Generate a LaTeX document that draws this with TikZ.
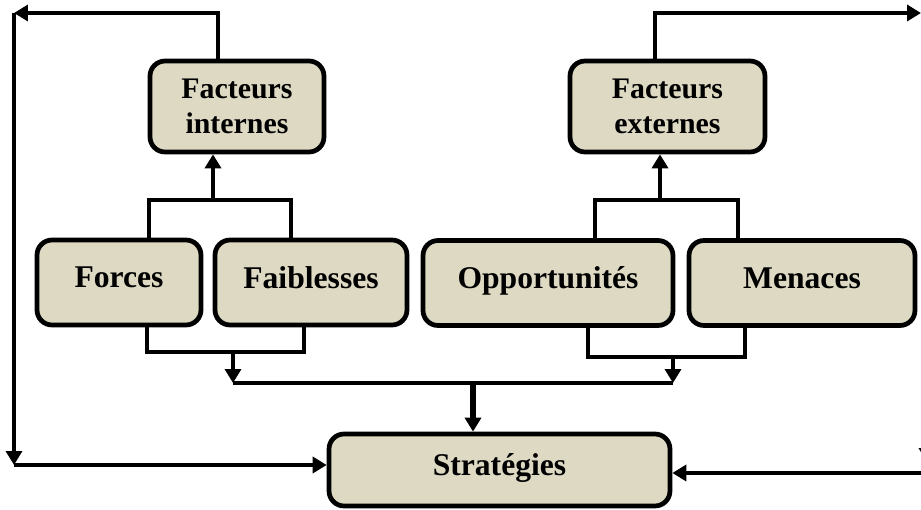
\documentclass[tikz,border=0pt]{standalone}
\usepackage{fontspec}
\setmainfont{Liberation Serif}
\usetikzlibrary{arrows.meta}
\definecolor{boxfill}{HTML}{DDD9C3}
\tikzset{
  box/.style={draw, line width=2.7pt, rounded corners=0.3cm, fill=boxfill, align=center,
    font=\fontsize{17}{20}\selectfont\bfseries, inner sep=0pt},
  raised/.style={text depth=0.2cm, font=\fontsize{18}{21}\selectfont\bfseries},
  link/.style={line width=2.4pt},
  arr/.style={link, -{Triangle[length=0.28cm,width=0.32cm]}},
}
\begin{document}
\begin{tikzpicture}[x=0.02cm, y=-0.02cm]
                \useasboundingbox (0,0) rectangle (921,510);
                \node[box, minimum width=3.48cm, minimum height=1.82cm] (FI) at (237,106.5) {Facteurs\\internes};
                \node[box, minimum width=3.9cm, minimum height=1.82cm] (FE) at (667.5,106.5) {Facteurs\\externes};
                \node[box, raised, minimum width=3.28cm, minimum height=1.7cm] (F) at (119,282.5) {Forces};
                \node[box, raised, minimum width=3.84cm, minimum height=1.7cm] (W) at (311,282.5) {Faiblesses};
                \node[box, raised, minimum width=5.0cm, minimum height=1.7cm] (O) at (548,283) {Opportunités};
                \node[box, raised, minimum width=4.52cm, minimum height=1.7cm] (M) at (802,283) {Menaces};
                \node[box, raised, minimum width=6.82cm, minimum height=1.44cm] (S) at (499.5,470) {Stratégies};
                \coordinate (jFI) at (213,200);
                \coordinate (jFE) at (660,200);
                \coordinate (jL) at (233,352);
                \coordinate (jR) at (673,357);
                \coordinate (hL) at (233,383);
                \coordinate (hR) at (673,383);
                \coordinate (hS) at (473,383);
                \coordinate (tl) at (14,13);
                \coordinate (bl) at (14,465);
                \coordinate (tr) at (921,13);
                \coordinate (rr) at (927,13);
                \coordinate (br) at (927,473);
                \draw[link] ([xshift=0.6cm]F.north) |- (jFI) -| ([xshift=-0.4cm]W.north);
                \draw[arr] (jFI) -- (FI.south -| jFI);
                \draw[link] ([xshift=0.94cm]O.north) |- (jFE) -| ([xshift=-1.28cm]M.north);
                \draw[arr] (jFE) -- (FE.south -| jFE);
                \draw[arr] ([xshift=-0.38cm]FI.north) |- (tl);
                \draw[arr] (tl) -- (bl);
                \draw[arr] (bl) -- (S.west |- bl);
                \draw[arr] ([xshift=-0.25cm]FE.north) |- (tr);
                \draw[arr] (rr) -- ([yshift=0.22cm]br);
                \draw[arr] (br) -- (S.east |- br);
                \draw[link] ([xshift=0.56cm]F.south) |- (jL) -| ([xshift=-0.14cm]W.south);
                \draw[arr] (jL) -- (hL);
                \draw[link] ([xshift=0.8cm]O.south) |- (jR) -| ([xshift=-1.14cm]M.south);
                \draw[arr] (jR) -- (hR);
                \draw[link] (hL) -- (hR);
                \draw[arr, line width=3.4pt] (hS) -- (S.north -| hS);
            \end{tikzpicture}
\end{document}
